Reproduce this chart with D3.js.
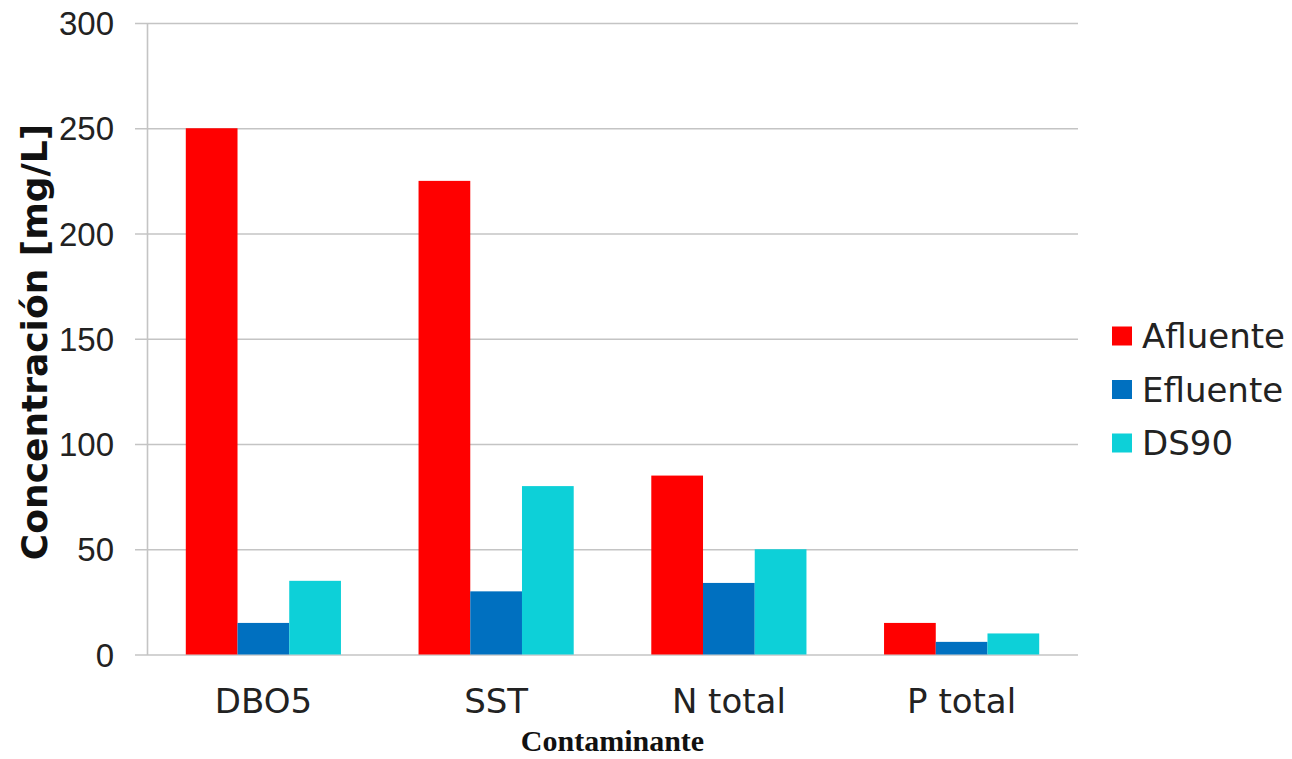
<!DOCTYPE html>
<html>
<head>
<meta charset="utf-8">
<script src="https://cdn.jsdelivr.net/npm/d3@7"></script>
<style>
  html, body { margin: 0; padding: 0; background: #ffffff; }
  svg { display: block; }
</style>
</head>
<body>
<svg id="chart" width="1292" height="759"></svg>
<script>
const categories = ["DBO5", "SST", "N total", "P total"];
const seriesNames = ["Afluente", "Efluente", "DS90"];
const afluente = [250, 225, 85, 15];
const efluente = [15, 30, 34, 6];
const ds90 = [35, 80, 50, 10];
const yTicks = [0, 50, 100, 150, 200, 250, 300];
const colors = ["#ff0000", "#0070c0", "#0dd0d8"];
const seriesValues = [afluente, efluente, ds90];

const svg = d3.select("#chart");
const plot = { left: 147, right: 1078, top: 23, bottom: 654.5 };

const x0 = d3.scaleBand().domain(categories).range([plot.left, plot.right]).paddingInner(0).paddingOuter(0);
const x1 = d3.scaleBand().domain(seriesNames).range([0, x0.bandwidth()]).paddingInner(0).paddingOuter(0.75);
const y = d3.scaleLinear().domain([0, 300]).range([plot.bottom, plot.top]);
const color = d3.scaleOrdinal().domain(seriesNames).range(colors);

// gridlines
const gy = svg.append("g").attr("transform", `translate(${plot.right},0)`);
gy.call(d3.axisLeft(y).tickValues(yTicks).tickSize(plot.right - plot.left + 12).tickFormat(""));
gy.select(".domain").remove();
gy.selectAll(".tick line").attr("stroke", "#c4c4c4").attr("stroke-width", 1.6);

// y axis line + labels
const gyl = svg.append("g").attr("transform", `translate(${plot.left},0)`);
gyl.call(d3.axisLeft(y).tickValues(yTicks).tickSize(0).tickPadding(33).tickFormat(d3.format("d")));
gyl.select(".domain").attr("stroke", "#c4c4c4").attr("stroke-width", 1.6);
gyl.selectAll(".tick text")
  .attr("font-family", "'Liberation Sans', Arial, sans-serif")
  .attr("font-size", 33)
  .attr("fill", "#222")
  .attr("dy", "0.35em");

// bars
const groups = svg.append("g").selectAll("g")
  .data(categories)
  .join("g")
  .attr("transform", d => `translate(${x0(d)},0)`);

groups.selectAll("rect")
  .data((c, i) => seriesNames.map((s, j) => ({ s, v: seriesValues[j][i] })))
  .join("rect")
  .attr("x", d => x1(d.s))
  .attr("width", x1.bandwidth())
  .attr("y", d => y(d.v))
  .attr("height", d => y(0) - y(d.v))
  .attr("fill", d => color(d.s));

// x axis labels
const gx = svg.append("g").attr("transform", `translate(0,${plot.bottom})`);
gx.call(d3.axisBottom(x0).tickSize(0).tickPadding(34));
gx.select(".domain").remove();
gx.selectAll(".tick text")
  .attr("font-family", "'DejaVu Sans', Verdana, sans-serif")
  .attr("font-size", 34)
  .attr("fill", "#222");

// axis titles
svg.append("text")
  .attr("x", (plot.left + plot.right) / 2)
  .attr("y", 751)
  .attr("text-anchor", "middle")
  .attr("font-family", "'Liberation Serif', 'Times New Roman', serif")
  .attr("font-weight", "bold")
  .attr("font-size", 30)
  .attr("fill", "#111")
  .text("Contaminante");

svg.append("text")
  .attr("transform", "translate(47,342) rotate(-90)")
  .attr("text-anchor", "middle")
  .attr("font-family", "'DejaVu Sans', Verdana, sans-serif")
  .attr("font-weight", "bold")
  .attr("font-size", 36)
  .attr("fill", "#111")
  .text("Concentración [mg/L]");

// legend
const legend = svg.append("g").selectAll("g")
  .data(seriesNames)
  .join("g")
  .attr("transform", (d, i) => `translate(1112,${336 + i * 53.5})`);
legend.append("rect")
  .attr("x", 0).attr("y", -9.5).attr("width", 20).attr("height", 19)
  .attr("fill", d => color(d));
legend.append("text")
  .attr("x", 30).attr("y", 0).attr("dy", "0.36em")
  .attr("font-family", "'DejaVu Sans', Verdana, sans-serif")
  .attr("font-size", 34)
  .attr("fill", "#222")
  .text(d => d);
</script>
</body>
</html>
